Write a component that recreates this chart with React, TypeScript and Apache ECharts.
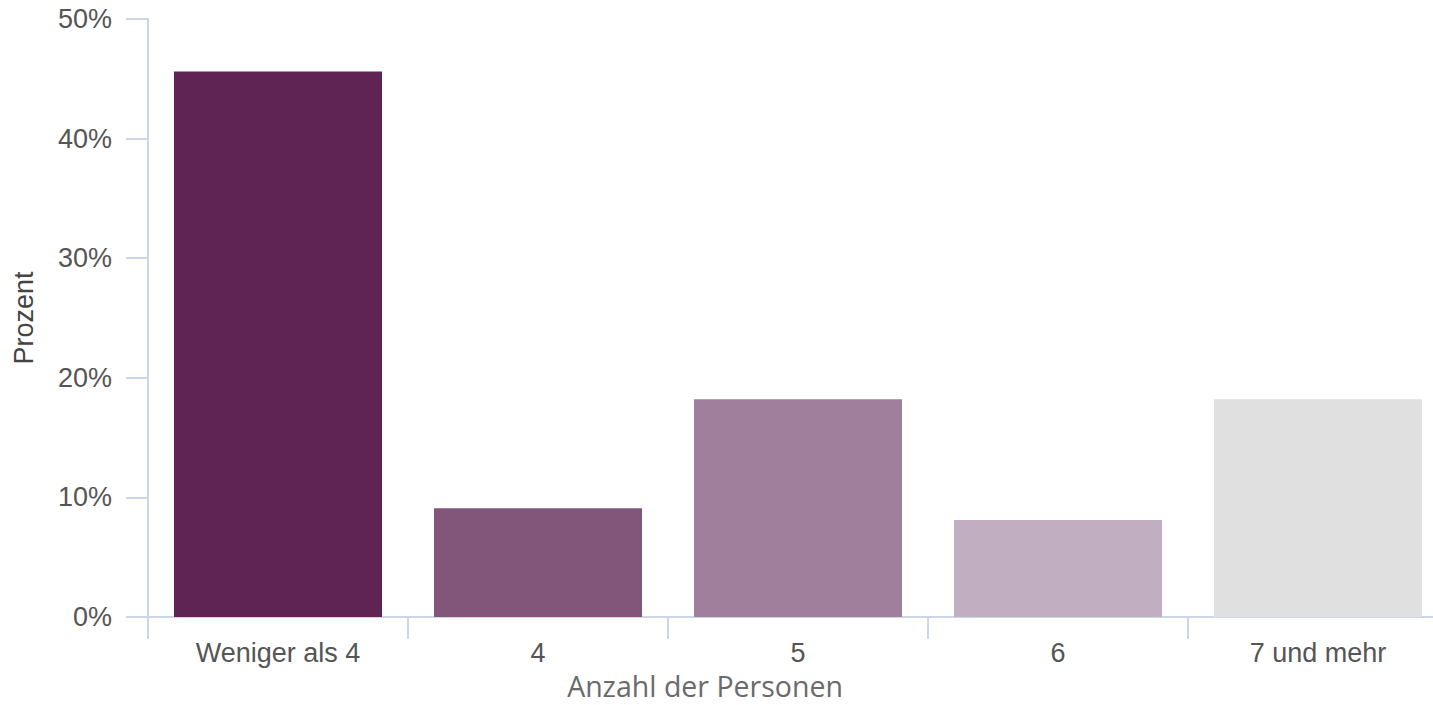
import React, { useEffect, useRef } from "react";
import * as echarts from "echarts";

const categories = ["Weniger als 4", "4", "5", "6", "7 und mehr"];
const values = [45.6, 9.1, 18.2, 8.1, 18.2];
const barColors = ["#5f2354", "#82557a", "#9f7f9b", "#c1aec0", "#e0e0e0"];
const yTicks = { min: 0, max: 50, interval: 10 };

export default function App() {
  const ref = useRef<HTMLDivElement>(null);
  useEffect(() => {
    if (!ref.current) return;
    const chart = echarts.init(ref.current, undefined, { renderer: "svg" });
    const axisColor = "#ccd6eb";
    chart.setOption({
      animation: false,
      backgroundColor: "#ffffff",
      grid: {
        left: 148,
        top: 19,
        width: 1300,
        height: 598,
        containLabel: false,
        outerBoundsMode: "none",
      },
      xAxis: {
        type: "category",
        data: categories,
        name: "Anzahl der Personen",
        nameLocation: "middle",
        nameGap: 57,
        nameTextStyle: {
          fontFamily: "Open Sans",
          fontSize: 28.5,
          lineHeight: 24,
          color: "#6a6a6a",
          padding: [0, 186, 0, 0],
        },
        axisLine: { show: true, lineStyle: { color: axisColor, width: 2 } },
        axisTick: { show: true, length: 22, lineStyle: { color: axisColor, width: 2 } },
        axisLabel: { margin: 22, fontFamily: "Liberation Sans", fontSize: 27, color: "#555555" },
        splitLine: { show: false },
      },
      yAxis: {
        type: "value",
        min: yTicks.min,
        max: yTicks.max,
        interval: yTicks.interval,
        name: "Prozent",
        nameLocation: "middle",
        nameGap: 111,
        nameRotate: 90,
        nameTextStyle: { fontFamily: "Liberation Sans", fontSize: 27, color: "#444444" },
        axisLine: { show: true, lineStyle: { color: axisColor, width: 2 } },
        axisTick: { show: true, length: 22, lineStyle: { color: axisColor, width: 2 } },
        axisLabel: {
          margin: 36,
          fontFamily: "Liberation Sans",
          fontSize: 27,
          color: "#555555",
          formatter: "{value}%",
        },
        splitLine: { show: false },
      },
      series: [
        {
          type: "bar",
          barCategoryGap: "20%",
          data: values.map((v, i) => ({ value: v, itemStyle: { color: barColors[i] } })),
        },
      ],
    });
    return () => chart.dispose();
  }, []);
  return (
    <div
      ref={ref}
      style={{ position: "fixed", left: 0, top: 0, width: 1433, height: 705 }}
    />
  );
}
